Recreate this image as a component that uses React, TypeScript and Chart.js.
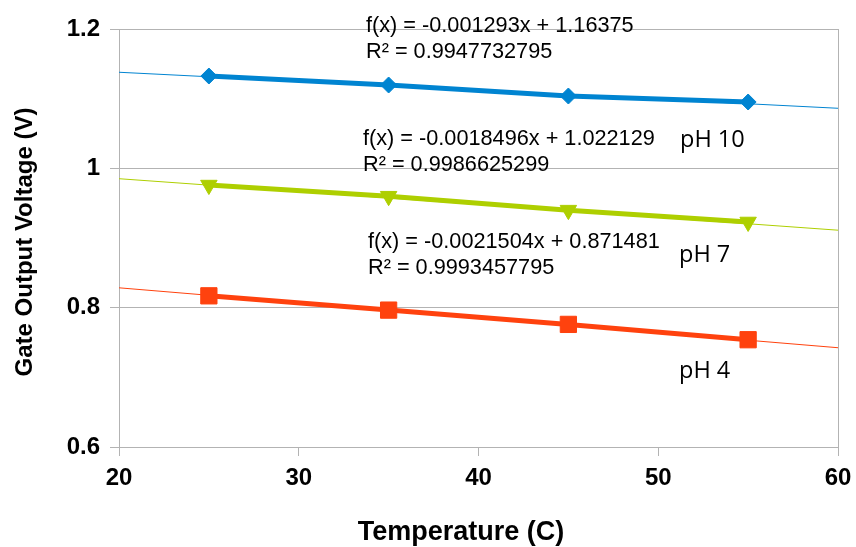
import React, { useEffect, useRef } from "react";
import { Chart, registerables } from "chart.js";

Chart.register(...registerables);

// ---- data ----
const temperatures = [25, 35, 45, 55];
const ph10Values = [1.1325, 1.1196, 1.1038, 1.0952];
const ph7Values = [0.976, 0.96, 0.94, 0.923];
const ph4Values = [0.817, 0.7965, 0.776, 0.754];

const trendX = [20, 60];
const ph10Trend = [1.1379, 1.0862];
const ph7Trend = [0.9851, 0.9112];
const ph4Trend = [0.8285, 0.7425];

const xTickValues = [20, 30, 40, 50, 60];
const yTickValues = [0.6, 0.8, 1.0, 1.2];

const seriesLabels = ["pH 10", "pH 7", "pH 4"];
const equations = [
  "f(x) = -0.001293x + 1.16375",
  "f(x) = -0.0018496x + 1.022129",
  "f(x) = -0.0021504x + 0.871481",
];
const rSquared = [
  "R² = 0.9947732795",
  "R² = 0.9986625299",
  "R² = 0.9993457795",
];
const xTitle = "Temperature (C)";
const yTitle = "Gate Output Voltage (V)";

// ---- styles ----
const COLORS = ["#0084d1", "#aecf00", "#ff420e"];
const GRID = "#b3b3b3";
const FONT = '"Liberation Sans", Arial, sans-serif';
const LABEL_FONT = '"Open Sans", "Liberation Sans", sans-serif';

const toPoints = (xs: number[], ys: number[]) => xs.map((x, i) => ({ x, y: ys[i] }));

const eqPos = [
  { x: 366, y: 32 },
  { x: 363, y: 145 },
  { x: 368, y: 248 },
];
const labelPos = [
  { x: 680, y: 147 },
  { x: 679, y: 262 },
  { x: 679, y: 378 },
];

const textPlugin = {
  id: "textAnnotations",
  afterDraw(chart: any) {
    const ctx = chart.ctx as CanvasRenderingContext2D;
    ctx.save();
    ctx.fillStyle = "#000";
    ctx.textAlign = "left";
    ctx.textBaseline = "alphabetic";
    ctx.font = `21.7px ${FONT}`;
    equations.forEach((eq, i) => {
      ctx.fillText(eq, eqPos[i].x, eqPos[i].y);
      ctx.fillText(rSquared[i], eqPos[i].x, eqPos[i].y + 26);
    });
    ctx.font = `23.5px ${LABEL_FONT}`;
    seriesLabels.forEach((lab, i) => {
      ctx.fillText(lab, labelPos[i].x, labelPos[i].y);
    });
    // axis titles
    ctx.font = `bold 27px ${FONT}`;
    ctx.textAlign = "center";
    ctx.fillText(xTitle, 461, 540);
    ctx.save();
    ctx.translate(32, 242);
    ctx.rotate(-Math.PI / 2);
    ctx.font = `bold 24px ${FONT}`;
    ctx.fillText(yTitle, 0, 0);
    ctx.restore();
    ctx.restore();
  },
};

export default function App() {
  const ref = useRef<HTMLCanvasElement | null>(null);

  useEffect(() => {
    if (!ref.current) return;
    const pointStyles = ["rectRot", "triangle", "rect"];
    const radii = [8, 9.5, 11.5];
    const rotations = [0, 180, 0];
    const series = [ph10Values, ph7Values, ph4Values];
    const trends = [ph10Trend, ph7Trend, ph4Trend];

    const datasets: any[] = [];
    trends.forEach((t, i) => {
      datasets.push({
        label: seriesLabels[i] + " trend",
        data: toPoints(trendX, t),
        borderColor: COLORS[i],
        backgroundColor: COLORS[i],
        borderWidth: 1,
        pointRadius: 0,
        showLine: true,
        order: 2,
      });
    });
    series.forEach((s, i) => {
      datasets.push({
        label: seriesLabels[i],
        data: toPoints(temperatures, s),
        borderColor: COLORS[i],
        backgroundColor: COLORS[i],
        borderWidth: 5,
        pointStyle: pointStyles[i],
        pointRadius: radii[i],
        pointRotation: rotations[i],
        pointBorderWidth: 1,
        showLine: true,
        order: 1,
      });
    });

    const chart = new Chart(ref.current, {
      type: "scatter",
      data: { datasets },
      plugins: [textPlugin],
      options: {
        animation: false,
        responsive: false,
        devicePixelRatio: 1,
        layout: { padding: { top: 29, right: 18, left: 0, bottom: 0 } },
        plugins: { legend: { display: false }, tooltip: { enabled: false } },
        scales: {
          x: {
            type: "linear",
            min: 20,
            max: 60,
            afterBuildTicks: (scale: any) => {
              scale.ticks = xTickValues.map((v) => ({ value: v }));
            },
            afterFit: (scale: any) => {
              scale.height = 100;
              scale.paddingRight = 0;
              scale.paddingLeft = 0;
            },
            ticks: {
              color: "#000",
              font: { family: FONT, size: 24, weight: "bold" },
              padding: 8,
              maxRotation: 0,
            },
            grid: {
              drawOnChartArea: true,
              color: (c: any) => (c.tick && c.tick.value === 60 ? GRID : "rgba(0,0,0,0)"),
              tickColor: GRID,
              tickLength: 9,
              lineWidth: 1,
            },
            border: { display: true, color: GRID },
          },
          y: {
            type: "linear",
            min: 0.6,
            max: 1.2,
            afterBuildTicks: (scale: any) => {
              scale.ticks = yTickValues.map((v) => ({ value: v }));
            },
            afterFit: (scale: any) => {
              scale.width = 119;
              scale.paddingTop = 0;
              scale.paddingBottom = 0;
            },
            ticks: {
              color: "#000",
              font: { family: FONT, size: 24, weight: "bold" },
              padding: 10,
              callback: (v: any) => String(Number(Number(v).toFixed(1))),
            },
            grid: {
              color: GRID,
              tickColor: GRID,
              tickLength: 9,
              lineWidth: 1,
            },
            border: { display: true, color: GRID },
          },
        },
      },
    });
    return () => chart.destroy();
  }, []);

  return (
    <div style={{ position: "absolute", left: 0, top: 0, width: 856, height: 547, background: "#fff" }}>
      <canvas ref={ref} width={856} height={547} style={{ display: "block" }} />
    </div>
  );
}
